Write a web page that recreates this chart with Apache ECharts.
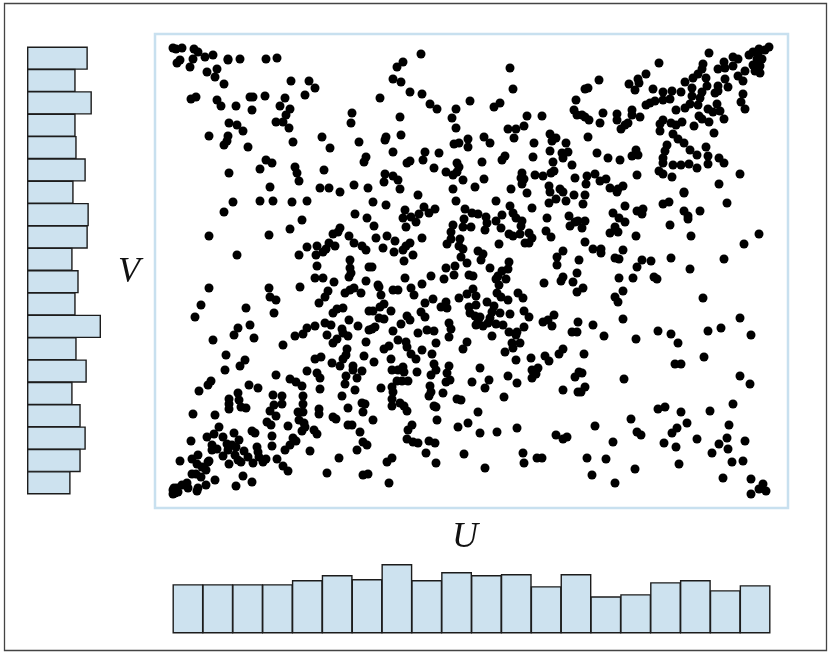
<!DOCTYPE html>
<html><head><meta charset="utf-8">
<style>html,body{margin:0;padding:0;background:#fff}#c{width:830px;height:656px}</style>
<script src="https://cdn.jsdelivr.net/npm/echarts@6/dist/echarts.min.js"></script>
</head><body><div id="c"></div>
<script>
// Sample values [U, V] (U spans 0-598, V spans 0-448), by region of the plot.
const topLeft=[[1,446],[4,445],[10,446],[22,445],[26,442],[33,437],[41,439],[56,435],[56,434],[68,435],[94,435],[105,436],[5,431],[8,434],[21,435],[18,427],[35,422],[45,425],[43,417],[52,410],[119,413],[137,413],[143,406],[133,399],[19,395],[24,397],[45,394],[49,388],[64,388],[78,397],[81,397],[93,398],[113,396],[108,388],[118,385],[80,384],[114,379],[180,381],[179,371],[57,371],[65,369],[71,363],[104,372],[111,372],[117,366],[37,358],[56,358],[55,353],[52,349],[76,347],[121,352],[150,357],[158,346],[187,352],[194,337],[192,332],[94,334],[100,331],[123,327],[88,325],[125,321],[152,324],[57,321],[127,313],[98,307],[148,306],[157,306],[168,302],[182,309],[196,306]];
const topMiddle=[[249,440],[231,432],[225,427],[338,426],[221,415],[229,412],[341,405],[238,402],[250,400],[208,396],[298,393],[258,390],[265,385],[284,385],[328,391],[322,387],[404,394],[402,384],[405,379],[355,378],[370,378],[280,376],[228,377],[284,366],[352,368],[344,365],[336,365],[229,359],[214,357],[213,354],[312,357],[318,351],[342,356],[378,360],[384,356],[380,353],[362,351],[394,351],[296,355],[296,347],[287,351],[282,350],[221,342],[253,342],[267,341],[378,343],[396,342],[390,341],[391,336],[361,337],[333,338],[330,334],[251,334],[238,333],[235,331],[310,332],[381,332],[400,329],[285,331],[287,327],[262,326],[274,322],[281,319],[285,322],[350,321],[382,323],[379,321],[363,319],[371,318],[352,315],[349,316],[350,310],[213,320],[221,318],[226,314],[212,312],[291,314],[312,315],[403,316],[377,308],[228,305],[281,305],[303,307],[339,305],[388,305]];
const topRight=[[537,441],[487,431],[597,447],[593,444],[587,445],[581,442],[577,439],[586,440],[590,435],[585,435],[588,428],[581,429],[588,421],[583,423],[561,437],[566,435],[552,432],[561,428],[553,426],[546,425],[531,430],[530,425],[526,420],[521,416],[534,416],[513,412],[520,406],[535,408],[573,423],[566,418],[571,413],[553,415],[474,420],[466,415],[457,410],[467,411],[463,404],[427,414],[416,406],[413,405],[481,405],[491,402],[500,403],[509,402],[530,402],[546,408],[556,407],[543,401],[546,403],[520,398],[528,396],[571,400],[491,394],[498,395],[483,393],[478,391],[474,389],[526,389],[518,390],[513,386],[569,392],[573,385],[545,390],[504,384],[536,385],[541,382],[548,383],[460,384],[552,375],[431,381],[445,380],[445,374],[460,379],[468,377],[410,379],[413,377],[417,374],[428,371],[456,371],[453,369],[449,365],[527,378],[530,375],[537,372],[491,374],[488,370],[488,363],[499,371],[504,369],[510,372],[522,368],[542,361],[501,360],[416,357],[506,355],[512,351],[495,349],[534,347],[493,343],[518,344],[525,339],[536,338],[464,344],[460,338],[466,339],[425,341],[436,336],[448,334],[491,336],[491,331],[547,336],[552,331],[536,330],[517,330],[509,329],[501,329],[525,326],[487,323],[491,320],[500,317],[568,320],[465,319],[423,320],[415,318],[414,310],[428,313],[434,315],[547,310],[451,308],[438,306],[446,305],[512,302]];
const midLeft=[[61,292],[88,293],[101,293],[120,292],[135,293],[52,282],[183,280],[195,276],[130,274],[118,265],[37,258],[97,259],[168,266],[166,262],[161,260],[177,258],[182,251],[190,248],[194,244],[65,239],[135,247],[145,248],[157,251],[163,248],[154,245],[151,242],[127,239],[144,239],[145,228],[178,234],[178,226],[179,221],[177,217],[197,227],[143,216],[151,216],[162,212],[194,213],[37,206],[97,206],[128,207],[182,206],[178,204],[173,201],[189,201],[156,203],[153,197],[147,191],[98,197],[104,194],[29,189],[74,186],[171,186],[165,185],[161,181],[102,181],[23,177],[197,183],[177,174],[78,169],[66,166],[153,171],[159,169],[186,168],[170,165],[143,168],[135,166],[131,160],[123,158],[62,159],[82,156],[41,154],[155,159],[176,158],[165,155],[161,151],[194,152],[197,164],[111,149],[171,161]];
const midMiddle=[[246,299],[284,293],[201,292],[214,289],[324,293],[338,288],[360,286],[355,301],[378,302],[384,295],[377,291],[394,293],[402,299],[391,302],[252,287],[263,285],[233,284],[257,281],[247,280],[239,277],[231,276],[244,272],[234,267],[293,285],[300,281],[306,280],[314,277],[330,279],[341,281],[344,276],[350,273],[324,273],[315,271],[292,275],[281,269],[291,267],[299,267],[313,264],[329,266],[349,268],[375,276],[397,278],[403,272],[398,268],[406,273],[374,263],[379,257],[279,262],[202,268],[204,256],[215,258],[223,253],[250,256],[238,251],[234,248],[231,244],[211,246],[222,242],[241,239],[232,233],[337,260],[341,258],[348,260],[357,261],[360,256],[357,251],[353,251],[327,250],[288,255],[279,255],[275,250],[287,248],[291,245],[306,243],[311,240],[309,234],[289,237],[295,231],[391,243],[385,237],[385,229],[407,234],[337,232],[318,226],[200,227],[274,226],[283,228],[282,219],[272,215],[259,218],[233,216],[250,210],[297,219],[301,218],[336,225],[330,223],[326,218],[324,215],[334,215],[327,209],[372,211],[391,217],[389,213],[405,221],[401,212],[405,202],[206,209],[207,207],[221,204],[226,204],[239,206],[242,199],[209,199],[301,205],[295,200],[304,198],[287,196],[325,201],[329,197],[336,194],[346,201],[351,196],[261,195],[253,191],[274,192],[269,187],[275,186],[315,192],[212,190],[208,187],[201,183],[219,183],[297,187],[304,189],[322,188],[320,182],[298,181],[328,181],[338,180],[352,183],[357,177],[382,179],[376,174],[371,172],[380,168],[406,172],[249,182],[253,177],[235,178],[238,174],[207,176],[212,175],[303,178],[308,177],[306,172],[318,176],[316,171],[304,169],[311,168],[324,170],[331,169],[229,170],[277,171],[279,165],[277,157],[255,164],[262,163],[246,161],[221,163],[203,167],[200,165],[226,154],[234,152],[264,151],[295,152],[320,158],[337,162],[345,162],[344,159],[352,167],[400,162],[405,162],[340,151],[348,151]];
const midRight=[[413,299],[445,302],[512,301],[411,290],[453,288],[497,292],[491,290],[555,291],[471,285],[465,283],[470,280],[441,281],[512,283],[516,278],[516,275],[528,283],[447,276],[453,272],[413,273],[498,269],[443,267],[446,262],[438,261],[410,266],[464,258],[519,258],[587,260],[572,250],[413,252],[421,245],[429,245],[429,241],[451,244],[443,236],[447,235],[470,234],[479,233],[499,236],[552,235],[465,227],[518,225],[447,216],[461,216],[482,217],[485,215],[411,206],[451,203],[443,197],[446,192],[531,196],[451,175],[568,176],[421,169],[549,166],[486,163],[536,163],[499,160],[579,159],[432,158],[464,155],[506,151]];
const lowLeft=[[54,139],[73,134],[68,128],[53,124],[143,135],[149,137],[160,131],[168,128],[171,135],[174,139],[175,145],[192,138],[181,128],[181,124],[190,123],[135,123],[104,119],[145,121],[148,116],[174,118],[185,116],[118,115],[124,112],[130,108],[173,110],[148,105],[183,104],[39,113],[36,109],[27,103],[77,109],[86,106],[66,101],[57,95],[67,94],[57,90],[57,85],[69,87],[74,86],[101,99],[110,98],[131,98],[170,98],[102,89],[110,90],[131,90],[190,91],[193,90],[176,86],[98,83],[126,82],[131,82],[147,85],[147,80],[191,82],[21,80],[43,79],[104,78],[161,77],[164,75],[95,72],[99,69],[127,74],[132,71],[176,69],[180,69],[47,67],[116,68],[133,67],[130,63],[80,63],[83,61],[142,64],[145,60],[188,62],[42,60],[35,57],[62,61],[100,58],[51,57],[19,53],[67,54],[121,56],[124,53],[191,52],[195,49],[40,49],[55,50],[60,49],[64,47],[118,49],[100,48],[85,47],[40,44],[45,45],[56,44],[113,44],[138,43],[185,44],[72,43],[86,42],[26,39],[51,38],[63,39],[76,37],[87,37],[20,35],[37,33],[8,33],[66,34],[94,35],[105,35],[167,36],[81,31],[91,32],[57,30],[69,32],[25,30],[36,32],[30,27],[111,28],[34,24],[116,23],[20,20],[24,20],[29,17],[155,21],[191,19],[196,20],[71,18],[80,12],[43,14],[34,9],[64,8],[26,6],[25,3],[16,6],[15,11],[10,9],[5,6],[2,6],[1,0],[6,2],[1,4],[3,1]];
const lowMiddle=[[212,145],[217,148],[235,147],[250,144],[239,140],[244,135],[260,140],[291,145],[202,132],[219,135],[262,130],[277,128],[220,124],[231,127],[226,124],[232,122],[245,122],[264,124],[259,119],[275,121],[308,126],[333,142],[341,146],[344,134],[359,136],[373,138],[377,133],[387,140],[391,145],[366,126],[360,124],[364,120],[360,116],[336,118],[317,114],[300,112],[345,111],[403,117],[407,122],[225,113],[230,113],[236,113],[278,114],[274,112],[220,107],[209,106],[258,108],[313,106],[391,104],[406,102],[221,102],[271,101],[259,102],[257,98],[332,97],[220,95],[285,95],[289,94],[228,91],[220,88],[232,88],[262,88],[264,87],[235,83],[306,82],[201,74],[265,74],[296,71],[286,67],[240,69],[236,64],[345,66],[308,61],[325,62],[384,59],[395,57],[391,55],[235,55],[241,52],[246,51],[257,53],[263,51],[254,41],[292,40],[351,41],[365,36],[370,36],[220,36],[215,32],[264,31],[352,31],[313,26],[217,11]];
const lowRight=[[412,140],[532,137],[503,130],[509,130],[410,121],[452,115],[568,118],[578,110],[413,107],[409,102],[561,90],[486,85],[493,87],[509,82],[538,83],[459,75],[423,68],[515,71],[505,66],[500,61],[557,69],[465,62],[469,59],[441,52],[492,51],[525,55],[504,47],[555,56],[547,50],[573,53],[556,45],[540,41],[415,36],[434,35],[560,32],[571,33],[507,30],[463,25],[420,19],[443,11],[551,16],[579,15],[591,10],[587,5],[594,3],[579,0]];
// Histogram bar lengths, bottom (U, left to right) and left (V, top to bottom).
const uHistogram=[49,49,49,49,53,58,54,69,53,61,58,59,47,59,37,39,51,53,43,48];
const vHistogram=[60,48,64,48,49,58,46,61,60,45,51,48,73,49,59,45,53,58,53,43];
const uBins=uHistogram.map((_,i)=>String(i+1));
const vBins=vHistogram.map((_,i)=>String(i+1));
const points=[].concat(topLeft,topMiddle,topRight,midLeft,midMiddle,midRight,lowLeft,lowMiddle,lowRight);

const barFill='#cde2ef', barEdge='#1c1c1c', frameBlue='#c8e0ef';
const mathFont={fontFamily:'"Liberation Serif","DejaVu Serif",serif',fontStyle:'italic',fontSize:36,color:'#111'};
const hidden={axisLine:{show:false},axisTick:{show:false},axisLabel:{show:false},splitLine:{show:false}};
const barStyle={color:barFill,borderColor:barEdge,borderWidth:1.4};
const chart=echarts.init(document.getElementById('c'),null,{renderer:'canvas'});
chart.setOption({
  animation:false,
  backgroundColor:'#fff',
  graphic:[
    {type:'rect',shape:{x:4.5,y:3.5,width:822,height:647},style:{fill:'none',stroke:'#444',lineWidth:1.3},silent:true},
    {type:'text',x:129,y:273,silent:true,style:{text:'V',align:'center',verticalAlign:'middle',font:'italic 36px "Liberation Serif","DejaVu Serif",serif',fill:'#111'}}
  ],
  grid:[
    {left:155,top:34,width:633,height:474,show:true,borderColor:frameBlue,borderWidth:2.5,backgroundColor:'transparent'},
    {left:173,top:564,width:597,height:69.5},
    {left:27,top:47,width:74,height:447}
  ],
  xAxis:[
    {gridIndex:0,type:'value',min:-17,max:616,name:'U',nameLocation:'middle',nameGap:12,nameTextStyle:{...mathFont,padding:[0,13,0,0]},...hidden},
    {gridIndex:1,type:'category',data:uBins,...hidden},
    {gridIndex:2,type:'value',min:0,max:73,...hidden}
  ],
  yAxis:[
    {gridIndex:0,type:'value',min:-14,max:460,...hidden},
    {gridIndex:1,type:'value',min:0,max:69,...hidden},
    {gridIndex:2,type:'category',inverse:true,data:vBins,...hidden}
  ],
  series:[
    {type:'scatter',xAxisIndex:0,yAxisIndex:0,data:points,symbolSize:9,itemStyle:{color:'#000',opacity:1},silent:true},
    {type:'bar',xAxisIndex:1,yAxisIndex:1,data:uHistogram,barWidth:30.85,itemStyle:barStyle,silent:true},
    {type:'bar',xAxisIndex:2,yAxisIndex:2,data:vHistogram,barWidth:23.35,itemStyle:barStyle,silent:true}
  ]
});
</script></body></html>
